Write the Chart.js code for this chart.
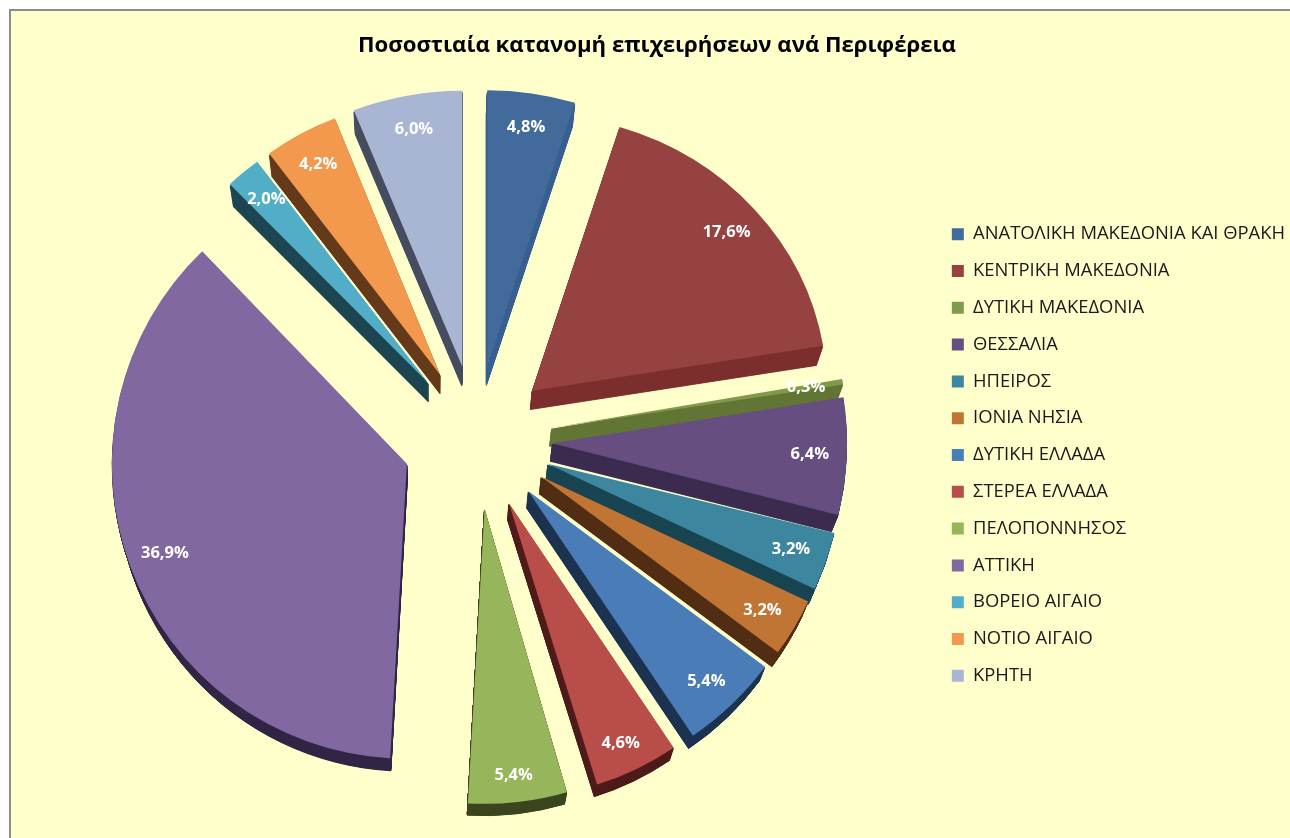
<!DOCTYPE html>
<html>
<head>
<meta charset="utf-8">
<title>Ποσοστιαία κατανομή επιχειρήσεων</title>
<script src="https://cdn.jsdelivr.net/npm/chart.js@4"></script>
<style>
    html, body { margin: 0; padding: 0; background: #fff; overflow: hidden; }
    #wrap { width: 1290px; height: 838px; }
</style>
</head>
<body>
<div id="wrap"><canvas id="pieChart"></canvas></div>
<script>
const regions = [
    "ΑΝΑΤΟΛΙΚΗ ΜΑΚΕΔΟΝΙΑ ΚΑΙ ΘΡΑΚΗ", "ΚΕΝΤΡΙΚΗ ΜΑΚΕΔΟΝΙΑ", "ΔΥΤΙΚΗ ΜΑΚΕΔΟΝΙΑ", "ΘΕΣΣΑΛΙΑ",
    "ΗΠΕΙΡΟΣ", "ΙΟΝΙΑ ΝΗΣΙΑ", "ΔΥΤΙΚΗ ΕΛΛΑΔΑ", "ΣΤΕΡΕΑ ΕΛΛΑΔΑ", "ΠΕΛΟΠΟΝΝΗΣΟΣ",
    "ΑΤΤΙΚΗ", "ΒΟΡΕΙΟ ΑΙΓΑΙΟ", "ΝΟΤΙΟ ΑΙΓΑΙΟ", "ΚΡΗΤΗ"
];
const shares = [4.8, 17.6, 0.3, 6.4, 3.2, 3.2, 5.4, 4.6, 5.4, 36.9, 2.0, 4.2, 6.0];
const faceColors = ["#426B9B", "#964240", "#7F9A48", "#664E80", "#3D869F", "#C17535", "#4A7CB7",
    "#B84D4A", "#97B55B", "#8268A0", "#52ADC7", "#F2994D", "#A8B5D3"];
const wallColors = ["#385F90", "#7C2F2E", "#627635", "#3C2C50", "#1A4552", "#522E14", "#1C3350",
    "#4F1C1B", "#3C461F", "#322646", "#1D4552", "#653A1B", "#464D60"];

const EXPLODE = 74;
const LABEL_RADIUS = 258;
const font = "'Open Sans', 'Noto Sans', sans-serif";

// moves an arc out from the centre, then fakes the 3D view:
// upper slices flatten a bit, lower right ones turn about a degree, upper left ones narrow
function placeSlice(ctx, arc) {
    const mid = (arc.startAngle + arc.endAngle) / 2;
    const deg = (mid * 180 / Math.PI + 90 + 360) % 360;
    const lowerRight = deg > 80 && deg < 170;
    const upperLeft = deg > 315 && deg < 340;
    const ax = arc.x + Math.cos(mid) * EXPLODE + (lowerRight ? 2 : 0);
    const ay = arc.y + Math.sin(mid) * EXPLODE - 4 * Math.max(0, Math.sin(mid));
    const up = Math.min(1, Math.max(0, -Math.sin(mid) * 1.5));
    ctx.translate(ax, ay);
    if (lowerRight) {
        ctx.rotate(-1.2 * Math.min(1, (deg - 70) / 40) * Math.PI / 180);
    }
    ctx.scale(upperLeft ? 0.97 : 1, 1 - 0.065 * up);
    ctx.translate(-arc.x, -arc.y);
}

const ArcEl = Chart.registry.getElement("arc");
const arcDraw = ArcEl.prototype.draw;
ArcEl.prototype.draw = function (ctx, area) {
    ctx.save();
    placeSlice(ctx, this);
    arcDraw.call(this, ctx, area);
    ctx.restore();
};

const framePlugin = {
    id: "frame",
    afterLayout(chart) {
        // legend sits a little right of and below where the layout puts it
        chart.legend.left += 5;
        chart.legend.right += 5;
        chart.legend.top += 45;
        chart.legend.bottom += 45;
    },
    beforeDraw(chart) {
        const ctx = chart.ctx;
        ctx.save();
        ctx.fillStyle = "#FFFFCC";
        ctx.fillRect(10, 10, chart.width, chart.height);
        ctx.strokeStyle = "#8C8C8C";
        ctx.lineWidth = 2;
        ctx.beginPath();
        ctx.moveTo(10, chart.height);
        ctx.lineTo(10, 10);
        ctx.lineTo(chart.width, 10);
        ctx.stroke();
        ctx.restore();
    }
};

// side walls: the face shrunk towards a vanishing point below the chart
const wallsPlugin = {
    id: "walls",
    beforeDatasetsDraw(chart) {
        const ctx = chart.ctx;
        const arcs = chart.getDatasetMeta(0).data;
        for (let s = 40; s >= 3; s--) {
            const k = 1 - 0.017 * s / 40;
            arcs.forEach(function (arc, i) {
                ctx.save();
                ctx.translate(430, 1500);
                ctx.scale(k, k);
                ctx.translate(-430, -1500);
                placeSlice(ctx, arc);
                ctx.fillStyle = wallColors[i];
                ctx.strokeStyle = wallColors[i];
                ctx.lineWidth = 0.8;
                ctx.beginPath();
                ctx.moveTo(arc.x, arc.y);
                ctx.arc(arc.x, arc.y, arc.outerRadius, arc.startAngle, arc.endAngle);
                ctx.closePath();
                ctx.fill();
                ctx.stroke();
                ctx.restore();
            });
        }
    }
};

const labelsPlugin = {
    id: "sliceLabels",
    afterDatasetsDraw(chart) {
        const ctx = chart.ctx;
        ctx.save();
        ctx.fillStyle = "#fff";
        ctx.font = "bold 16.5px " + font;
        ctx.textAlign = "center";
        ctx.textBaseline = "middle";
        chart.getDatasetMeta(0).data.forEach(function (arc, i) {
            const mid = (arc.startAngle + arc.endAngle) / 2;
            ctx.save();
            placeSlice(ctx, arc);
            const m = ctx.getTransform();
            ctx.restore();
            const p = m.transformPoint(new DOMPoint(
                arc.x + Math.cos(mid) * LABEL_RADIUS,
                arc.y + Math.sin(mid) * LABEL_RADIUS));
            // labels near the bottom sit lower in the slice
            const drop = 10 * Math.pow(Math.max(0, Math.sin(mid)), 3);
            ctx.fillText(shares[i].toFixed(1).replace(".", ",") + "%", p.x, p.y + drop);
        });
        ctx.restore();
    }
};

new Chart(document.getElementById("pieChart"), {
    type: "pie",
    data: {
        labels: regions,
        datasets: [{
            data: shares,
            backgroundColor: faceColors,
            borderWidth: 0,
            clip: false
        }]
    },
    options: {
        responsive: true,
        maintainAspectRatio: false,
        animation: false,
        radius: 295,
        layout: { padding: { left: 24, top: 0, right: 0, bottom: 18 } },
        plugins: {
            title: {
                display: true,
                text: "Ποσοστιαία κατανομή επιχειρήσεων ανά Περιφέρεια",
                color: "#000",
                font: { family: font, size: 22.2, weight: "bold" },
                padding: { top: 32, bottom: 0 }
            },
            legend: {
                position: "right",
                labels: {
                    boxWidth: 12,
                    boxHeight: 12,
                    padding: 18.4,
                    color: "#1a1a1a",
                    font: { family: font, size: 18.4 }
                }
            },
            tooltip: { enabled: false }
        }
    },
    plugins: [framePlugin, wallsPlugin, labelsPlugin]
});
</script>
</body>
</html>
